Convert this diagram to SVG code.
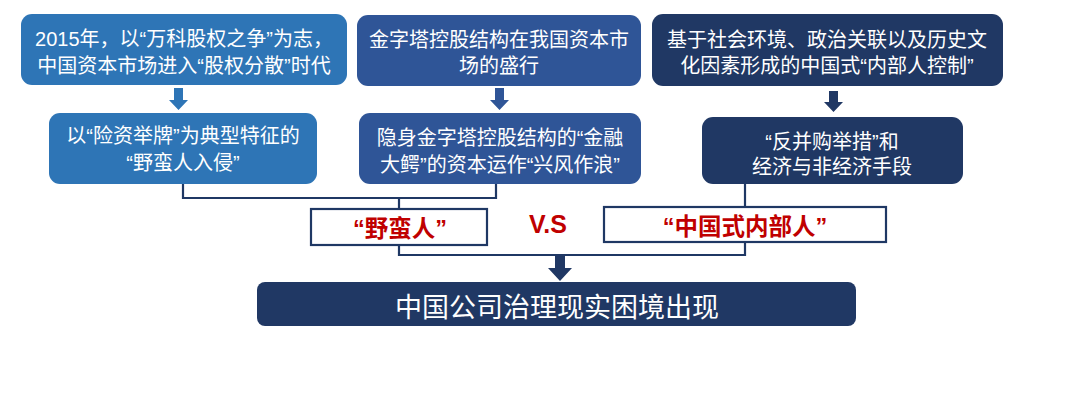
<svg xmlns="http://www.w3.org/2000/svg" width="1080" height="411" viewBox="0 0 1080 411">
<style>
.t{font-family:"Liberation Sans","Noto Sans CJK SC",sans-serif;font-size:20px;fill:#ffffff;text-anchor:middle}
.r{font-family:"Liberation Sans","Noto Sans CJK SC",sans-serif;font-size:23.5px;font-weight:bold;fill:#c00000;text-anchor:middle}
.c1{fill:#2e75b6}
.c2{fill:#2f5597}
.c3{fill:#203864}
.ln{fill:none;stroke:#1f3864;stroke-width:2.2}
.wb{fill:#ffffff;stroke:#1f3864;stroke-width:2.2}
</style>
<rect width="1080" height="411" fill="#ffffff"/>
<g id="connectors">
<polyline class="ln" points="183,184 183,198 496,198 496,184"/>
<line class="ln" x1="399" y1="198" x2="399" y2="209"/>
<line class="ln" x1="745" y1="184" x2="745" y2="207"/>
<polyline class="ln" points="399,245 399,255 745,255 745,242"/>
<polygon class="c1" points="174,88 183,88 183,100 188,100 178.5,110 169,100 174,100"/>
<polygon class="c2" points="495,88 504,88 504,100 509,100 499.5,110 490,100 495,100"/>
<polygon class="c3" points="829,91 838,91 838,102 843,102 833.5,112 824,102 829,102"/>
<polygon class="c3" points="555,256 565,256 565,268 572,268 560,281 548,268 555,268"/>
</g>
<g id="n1">
<rect class="c1" x="21" y="14" width="326" height="71" rx="11"/>
<text class="t" x="184" y="46">2015年，以“万科股权之争”为志，</text>
<text class="t" x="184" y="73">中国资本市场进入“股权分散”时代</text>
</g>
<g id="n2">
<rect class="c2" x="357" y="15" width="284" height="71" rx="11"/>
<text class="t" x="499" y="47">金字塔控股结构在我国资本市</text>
<text class="t" x="499" y="73">场的盛行</text>
</g>
<g id="n3">
<rect class="c3" x="652" y="14" width="351" height="72" rx="11"/>
<text class="t" x="827" y="47">基于社会环境、政治关联以及历史文</text>
<text class="t" x="827" y="73">化因素形成的中国式“内部人控制”</text>
</g>
<g id="n4">
<rect class="c1" x="49" y="113" width="268" height="71" rx="11"/>
<text class="t" x="183" y="143">以“险资举牌”为典型特征的</text>
<text class="t" x="183" y="170">“野蛮人入侵”</text>
</g>
<g id="n5">
<rect class="c2" x="359" y="113" width="282" height="71" rx="11"/>
<text class="t" x="500" y="145">隐身金字塔控股结构的“金融</text>
<text class="t" x="500" y="172">大鳄”的资本运作“兴风作浪”</text>
</g>
<g id="n6">
<rect class="c3" x="702" y="117" width="261" height="67" rx="11"/>
<text class="t" x="832" y="149">“反并购举措”和</text>
<text class="t" x="832" y="174">经济与非经济手段</text>
</g>
<g id="n7">
<rect class="wb" x="311" y="209" width="176" height="36"/>
<text class="r" x="400" y="237">“野蛮人”</text>
</g>
<g id="vs">
<text class="r" x="548" y="233" style="font-size:25px">V.S</text>
</g>
<g id="n8">
<rect class="wb" x="604" y="207" width="282" height="35"/>
<text class="r" x="745" y="235">“中国式内部人”</text>
</g>
<g id="n9">
<rect class="c3" x="257" y="282" width="599" height="44" rx="8"/>
<text class="t" x="557" y="317" style="font-size:27px">中国公司治理现实困境出现</text>
</g>
</svg>
